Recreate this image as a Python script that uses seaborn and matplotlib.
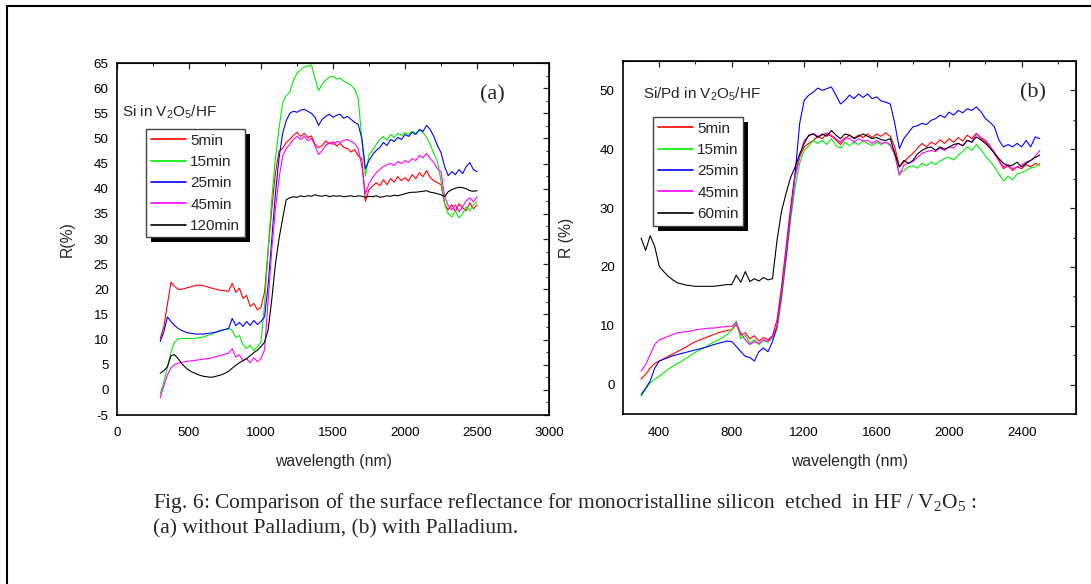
import numpy as np
import pandas as pd
import matplotlib
matplotlib.use("Agg")
import matplotlib.pyplot as plt
import seaborn as sns
from matplotlib.ticker import MultipleLocator, NullFormatter
from matplotlib.patches import Rectangle
from matplotlib.lines import Line2D
from matplotlib.transforms import IdentityTransform

# ===================== Data =====================
# common wavelength grid for both panels (nm)
wavelength = np.arange(300, 2501, 25)

# ---- panel (a): Si in V2O5/HF ----
labels_a = ['5min', '15min', '25min', '45min', '120min']
a_5min = [10.2, 12.5, 17.0, 21.4, 20.6, 20.0, 20.0, 20.2, 20.4, 20.6,
          20.8, 20.8, 20.7, 20.5, 20.3, 20.1, 19.9, 19.8, 19.7, 19.6,
          21.2, 19.4, 20.2, 18.2, 18.8, 16.6, 17.2, 15.9, 16.4, 19.5,
          28.0, 36.0, 43.0, 47.5, 48.0, 49.2, 49.8, 50.6, 51.2, 50.4,
          51.0, 50.2, 50.5, 48.8, 48.2, 48.6, 49.5, 48.9, 49.3, 48.5,
          49.0, 48.2, 48.0, 47.3, 47.8, 46.5, 46.0, 37.5, 39.8, 40.5,
          41.2, 40.6, 41.8, 40.8, 42.0, 41.3, 42.4, 41.6, 42.2, 41.5,
          42.8, 42.0, 43.2, 42.4, 43.6, 42.2, 41.6, 41.2, 40.8, 37.0,
          35.8, 36.8, 35.5, 37.0, 36.2, 35.6, 37.2, 36.0, 36.8]
a_15min = [-0.8, 1.5, 4.5, 7.5, 9.5, 10.1, 10.2, 10.2, 10.2, 10.2,
           10.3, 10.4, 10.5, 10.8, 11.0, 11.3, 11.6, 11.9, 12.0, 12.2,
           11.8, 10.4, 10.8, 9.0, 8.2, 8.9, 7.8, 8.6, 9.5, 17.0,
           28.0, 38.0, 46.0, 52.0, 57.0, 58.5, 59.2, 61.5, 63.0, 63.6,
           64.2, 64.4, 64.6, 62.0, 59.5, 60.8, 61.6, 62.2, 62.4, 61.8,
           62.0, 61.4, 61.0, 60.6, 59.8, 58.0, 50.0, 42.5, 46.8, 47.6,
           48.8, 49.8, 50.4, 49.6, 50.8, 50.2, 51.0, 50.6, 51.2, 50.8,
           51.4, 51.0, 51.6, 51.2, 50.2, 48.8, 47.0, 45.4, 41.5, 37.0,
           35.0, 34.4, 35.6, 34.2, 35.0, 36.4, 35.6, 36.8, 37.4]
a_25min = [9.6, 11.5, 14.5, 13.6, 12.8, 12.2, 11.8, 11.5, 11.3, 11.2,
           11.1, 11.1, 11.1, 11.2, 11.3, 11.4, 11.6, 11.8, 12.0, 12.2,
           14.2, 12.8, 13.4, 12.6, 13.6, 12.8, 13.8, 13.0, 13.6, 14.5,
           21.0, 30.0, 39.0, 46.0, 51.0, 53.5, 55.0, 55.4, 55.2, 55.6,
           55.8, 55.4, 55.0, 54.2, 52.6, 53.8, 54.4, 54.8, 54.2, 54.6,
           54.8, 54.0, 54.4, 53.8, 53.2, 52.8, 50.0, 44.0, 45.6, 46.8,
           47.6, 48.2, 49.2, 48.6, 49.8, 49.4, 50.2, 49.8, 50.8, 50.4,
           51.2, 50.8, 51.8, 51.4, 52.6, 51.8, 50.4, 48.6, 47.2, 44.4,
           42.6, 43.4, 42.8, 43.8, 43.0, 44.4, 45.2, 43.8, 43.4]
a_45min = [-1.6, 0.8, 3.0, 4.4, 5.0, 5.3, 5.5, 5.6, 5.7, 5.8,
           5.9, 6.0, 6.1, 6.2, 6.3, 6.5, 6.7, 6.9, 7.1, 7.3,
           8.2, 6.5, 7.0, 5.8, 6.2, 5.4, 6.4, 5.6, 6.2, 8.0,
           18.0, 28.0, 36.0, 42.0, 46.5, 48.0, 48.8, 49.8, 50.4, 49.8,
           50.4, 49.6, 50.0, 48.6, 46.8, 47.6, 48.6, 49.2, 48.8, 49.4,
           49.2, 49.6, 49.8, 49.4, 49.0, 48.0, 44.5, 39.0, 41.0, 42.2,
           43.2, 43.8, 44.4, 44.8, 45.0, 44.6, 45.4, 45.0, 45.6, 45.2,
           46.0, 45.6, 46.6, 46.2, 47.0, 46.0, 45.2, 44.0, 43.4, 38.5,
           36.6, 35.8, 36.8, 35.4, 36.4, 37.6, 38.2, 37.4, 38.4]
a_120min = [3.3, 3.8, 4.6, 6.8, 7.0, 6.2, 5.2, 4.5, 3.9, 3.5,
            3.2, 2.9, 2.7, 2.6, 2.5, 2.6, 2.8, 3.0, 3.3, 3.7,
            4.3, 4.9, 5.4, 5.8, 6.2, 6.8, 7.4, 7.9, 8.6, 9.5,
            12.0, 18.0, 25.0, 30.0, 34.0, 37.8, 38.2, 38.4, 38.3, 38.6,
            38.4, 38.6, 38.5, 38.8, 38.6, 38.5, 38.7, 38.4, 38.6, 38.5,
            38.6, 38.4, 38.5, 38.6, 38.4, 38.6, 38.5, 38.3, 38.5, 38.4,
            38.6, 38.3, 38.4, 38.6, 38.5, 38.7, 38.6, 38.8, 39.0, 39.2,
            39.3, 39.3, 39.4, 39.5, 39.6, 39.3, 39.2, 39.0, 38.8, 38.4,
            39.4, 39.8, 40.1, 40.3, 40.2, 40.0, 39.6, 39.5, 39.6]

# ---- panel (b): Si/Pd in V2O5/HF ----
labels_b = ['5min', '15min', '25min', '45min', '60min']
b_5min = [0.9, 1.8, 2.8, 3.6, 4.0, 4.4, 4.8, 5.2, 5.6, 6.0,
          6.4, 6.9, 7.3, 7.6, 7.9, 8.2, 8.5, 8.8, 9.0, 9.2,
          9.3, 10.2, 8.4, 8.8, 7.8, 8.3, 7.4, 8.0, 7.6, 8.3,
          11.0, 16.7, 23.4, 30.2, 35.9, 38.7, 40.4, 41.0, 41.5, 42.2,
          41.8, 42.6, 42.2, 41.6, 40.8, 41.8, 42.4, 41.9, 42.4, 42.0,
          42.6, 42.0, 42.6, 42.2, 42.8, 42.2, 40.4, 37.0, 37.8, 38.6,
          39.3, 40.2, 41.0, 40.4, 41.2, 40.8, 41.6, 41.0, 41.8, 41.2,
          42.0, 41.4, 42.4, 41.8, 42.7, 42.0, 41.5, 40.6, 39.3, 38.0,
          36.7, 37.2, 36.4, 37.0, 36.7, 37.4, 37.0, 37.6, 37.3]
b_15min = [-2.0, -0.8, 0.3, 0.9, 1.4, 2.0, 2.6, 3.1, 3.6, 4.0,
           4.5, 5.0, 5.5, 5.9, 6.3, 6.8, 7.2, 7.6, 8.0, 8.5,
           9.3, 10.8, 7.8, 8.4, 7.0, 7.6, 6.8, 7.5, 7.2, 7.9,
           9.3, 14.4, 21.2, 28.0, 33.6, 37.6, 39.8, 40.6, 41.5, 41.0,
           41.5, 40.8, 41.8, 40.6, 40.2, 41.2, 40.6, 41.2, 40.8, 41.4,
           41.0, 40.6, 41.2, 40.8, 41.2, 40.6, 39.3, 35.8, 36.4, 37.0,
           37.2, 36.8, 37.6, 37.2, 37.8, 37.4, 38.0, 38.4, 38.6, 38.2,
           39.0, 39.6, 40.4, 39.8, 40.8, 40.0, 38.8, 38.0, 37.0, 35.8,
           34.6, 35.4, 34.8, 35.8, 36.0, 36.4, 36.8, 37.0, 37.6]
b_25min = [-1.7, -0.6, 0.6, 2.8, 4.0, 4.3, 4.6, 4.9, 5.1, 5.3,
           5.5, 5.7, 5.9, 6.1, 6.3, 6.5, 6.8, 7.0, 7.2, 7.4,
           7.3, 6.5, 5.6, 4.8, 4.6, 4.0, 5.6, 6.2, 5.6, 7.3,
           9.9, 15.5, 21.8, 29.1, 35.9, 44.4, 48.3, 49.2, 49.7, 50.4,
           50.0, 50.3, 50.6, 49.2, 47.7, 48.3, 49.2, 48.6, 49.4, 48.8,
           49.4, 48.6, 48.9, 48.2, 48.0, 47.7, 44.4, 40.1, 41.8, 42.8,
           43.8, 44.0, 44.4, 44.2, 44.9, 45.2, 45.8, 45.4, 46.3, 45.8,
           46.6, 46.2, 46.9, 46.6, 47.2, 46.4, 45.2, 44.6, 43.8, 41.5,
           40.4, 40.8, 40.4, 41.0, 40.4, 41.5, 40.4, 42.1, 41.8]
b_45min = [2.3, 3.4, 5.1, 6.8, 7.6, 7.9, 8.2, 8.5, 8.8, 8.9,
           9.0, 9.1, 9.3, 9.4, 9.5, 9.6, 9.6, 9.7, 9.8, 9.9,
           9.9, 10.5, 8.8, 7.6, 6.8, 7.3, 7.0, 7.6, 7.3, 8.2,
           9.9, 15.5, 22.3, 29.1, 35.3, 38.7, 41.5, 42.2, 42.7, 42.2,
           42.4, 42.8, 42.4, 41.8, 41.2, 42.0, 41.8, 41.2, 41.8, 41.4,
           41.5, 41.0, 41.5, 41.0, 41.2, 40.8, 39.0, 35.6, 37.3, 37.6,
           37.9, 38.6, 39.3, 39.6, 39.8, 39.6, 40.2, 39.8, 40.4, 40.2,
           41.0, 40.6, 41.5, 41.2, 42.7, 41.8, 41.2, 40.4, 39.5, 38.2,
           37.0, 37.4, 36.7, 37.0, 37.3, 37.8, 38.1, 38.8, 39.8]
b_60min = [24.9, 22.8, 25.3, 23.5, 20.1, 19.2, 18.4, 17.8, 17.3, 17.1,
           16.9, 16.8, 16.7, 16.7, 16.7, 16.7, 16.7, 16.8, 16.9, 17.0,
           17.0, 18.6, 17.4, 19.2, 17.5, 18.0, 17.6, 18.2, 17.8, 18.0,
           24.5, 29.5, 32.5, 35.2, 37.0, 39.2, 41.0, 42.4, 42.6, 42.0,
           42.6, 42.2, 43.2, 42.4, 41.8, 42.6, 42.4, 41.8, 42.2, 42.6,
           42.2, 41.8, 42.0, 41.6, 41.5, 41.8, 39.3, 37.0, 38.1, 37.6,
           38.1, 39.2, 39.8, 40.2, 40.4, 39.8, 40.4, 40.0, 40.4, 40.8,
           41.0, 40.6, 41.5, 41.2, 42.1, 41.6, 41.0, 40.2, 39.3, 38.4,
           37.6, 37.2, 37.3, 37.8, 37.0, 37.6, 38.1, 38.6, 39.0]

line_colors = ['#ff0000', '#00ee00', '#0000ff', '#ff00ff', '#000000']


def long_frame(labels, series):
    return pd.DataFrame({
        'wavelength': np.tile(wavelength, len(series)),
        'R': np.concatenate([np.asarray(s, dtype=float) for s in series]),
        'time': np.repeat(labels, len(wavelength)),
    })


df_a = long_frame(labels_a, [a_5min, a_15min, a_25min, a_45min, a_120min])
df_b = long_frame(labels_b, [b_5min, b_15min, b_25min, b_45min, b_60min])

# ===================== Style =====================
sns.set_style('white')
plt.rcParams['font.family'] = ['Liberation Sans', 'DejaVu Sans']
plt.rcParams['mathtext.default'] = 'regular'
plt.rcParams['axes.unicode_minus'] = False

W, H = 1091, 584
fig = plt.figure(figsize=(W / 100, H / 100), dpi=100)
fig.patch.set_facecolor('white')


def px_axes(left, top, right, bottom):
    return fig.add_axes([left / W, 1 - bottom / H, (right - left) / W, (bottom - top) / H])


ax_a = px_axes(117, 63, 549, 415)
ax_b = px_axes(623, 61, 1076, 414)


def style_axis(ax, xlim, ylim, xmaj, xmin, ymaj, ymin):
    ax.set_xlim(*xlim)
    ax.set_ylim(*ylim)
    ax.xaxis.set_major_locator(MultipleLocator(xmaj))
    ax.xaxis.set_minor_locator(MultipleLocator(xmin))
    ax.yaxis.set_major_locator(MultipleLocator(ymaj))
    ax.yaxis.set_minor_locator(MultipleLocator(ymin))
    for sp in ax.spines.values():
        sp.set_visible(True)
        sp.set_color('black')
        sp.set_linewidth(1.2)
    ax.tick_params(which='major', direction='out', length=4, width=0.9,
                   labelsize=9.6, pad=2, colors='black')
    ax.tick_params(axis='x', which='major', pad=5)
    ax.tick_params(which='minor', direction='out', length=2.5, width=0.8)
    # mirrored ticks pointing inward on top and right
    top = ax.secondary_xaxis('top')
    top.xaxis.set_major_locator(MultipleLocator(xmaj))
    top.xaxis.set_minor_locator(MultipleLocator(xmin))
    top.xaxis.set_major_formatter(NullFormatter())
    top.tick_params(which='major', direction='in', length=4, width=0.9)
    top.tick_params(which='minor', direction='in', length=2.5, width=0.8)
    right = ax.secondary_yaxis('right')
    right.yaxis.set_major_locator(MultipleLocator(ymaj))
    right.yaxis.set_minor_locator(MultipleLocator(ymin))
    right.yaxis.set_major_formatter(NullFormatter())
    right.tick_params(which='major', direction='in', length=4, width=0.9)
    right.tick_params(which='minor', direction='in', length=2.5, width=0.8)
    ax.grid(False)


def draw_panel(ax, df, labels, ylab, ylab_x):
    sns.lineplot(data=df, x='wavelength', y='R', hue='time',
                 hue_order=labels, palette=line_colors, estimator=None,
                 sort=False, linewidth=0.8, legend=False, ax=ax)
    ax.set_xlabel('wavelength (nm)', fontsize=11.3)
    ax.set_ylabel(ylab, fontsize=11.3)
    ax.xaxis.set_label_coords(0.5, -0.112)
    ax.yaxis.set_label_coords(ylab_x, 0.5)


def add_legend(ax, labels, x_px, y_px):
    handles = [Line2D([0], [0], color=c, lw=1.2) for c in line_colors]
    leg = ax.legend(handles, labels, loc='upper left',
                    bbox_to_anchor=(x_px / W, 1 - y_px / H),
                    bbox_transform=fig.transFigure, borderaxespad=0,
                    fontsize=11, handlelength=2.3, handletextpad=0.3,
                    borderpad=0.3, labelspacing=0.48, fancybox=False,
                    framealpha=1, edgecolor='#444444')
    leg.get_frame().set_linewidth(1.0)
    return leg


draw_panel(ax_a, df_a, labels_a, 'R(%)', -0.098)
style_axis(ax_a, (0, 3000), (-5, 65), 500, 250, 5, 2.5)
leg_a = add_legend(ax_a, labels_a, 146, 129)
ax_a.text(0.012, 0.86, 'Si in V$_2$O$_5$/HF', transform=ax_a.transAxes,
          fontsize=11, va='center', ha='left')
ax_a.text(0.87, 0.91, '(a)', transform=ax_a.transAxes, fontsize=16,
          family='Liberation Serif', va='center', ha='center')

draw_panel(ax_b, df_b, labels_b, 'R (%)', -0.108)
style_axis(ax_b, (200, 2700), (-5, 55), 400, 200, 10, 5)
leg_b = add_legend(ax_b, labels_b, 653, 117)
ax_b.text(0.045, 0.905, 'Si/Pd in V$_2$O$_5$/HF', transform=ax_b.transAxes,
          fontsize=11, va='center', ha='left')
ax_b.text(0.905, 0.91, '(b)', transform=ax_b.transAxes, fontsize=16,
          family='Liberation Serif', va='center', ha='center')

# solid black drop shadows behind the legends
fig.canvas.draw()
for ax, leg in [(ax_a, leg_a), (ax_b, leg_b)]:
    bb = leg.get_window_extent()
    ax.add_patch(Rectangle((bb.x0 + 5, bb.y0 - 5), bb.width, bb.height,
                           transform=IdentityTransform(), facecolor='black',
                           edgecolor='none', zorder=4.5, clip_on=False))

# caption
fig.text(153 / W, 1 - 508 / H,
         'Fig. 6: Comparison of the surface reflectance for monocristalline '
         'silicon  etched  in HF / V$_2$O$_5$ :',
         family='Liberation Serif', fontsize=15.5, va='baseline', ha='left')
fig.text(153 / W, 1 - 533 / H, '(a) without Palladium, (b) with Palladium.',
         family='Liberation Serif', fontsize=15.5, va='baseline', ha='left')

# page frame (top and left edges visible)
fig.add_artist(Line2D([7 / W, 7 / W], [0, 1 - 6 / H], color='black', lw=1.5,
                      transform=fig.transFigure))
fig.add_artist(Line2D([7 / W, 1], [1 - 6 / H, 1 - 6 / H], color='black', lw=1.5,
                      transform=fig.transFigure))

fig.savefig('out.png', dpi=100, facecolor='white')
